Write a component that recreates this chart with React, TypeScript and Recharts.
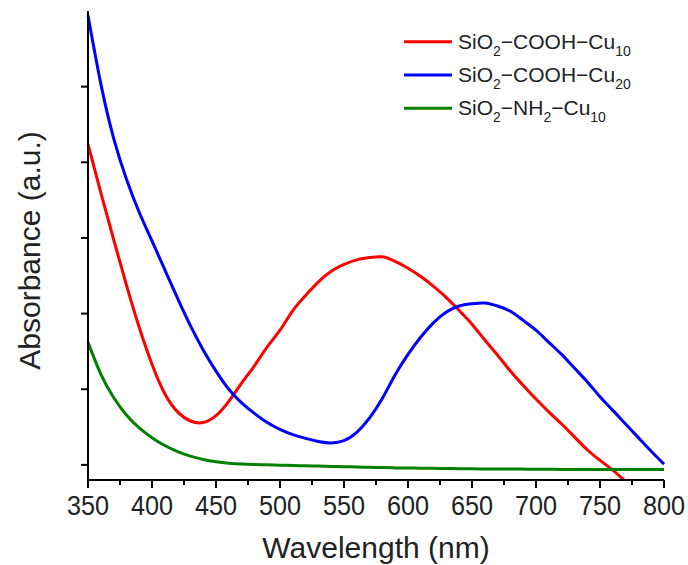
import React from 'react';
import { LineChart, Line, XAxis, YAxis, Legend } from 'recharts';

const wavelengths = [350, 360, 370, 380, 390, 400, 410, 420, 430, 440, 450, 460, 470, 480, 490, 500, 510, 520, 530, 540, 550, 560, 570, 580, 590, 600, 610, 620, 630, 640, 650, 660, 670, 680, 690, 700, 710, 720, 730, 740, 750, 760, 770, 780, 790, 800];

const coohCu10 = [2.12, 1.8, 1.49, 1.19, 0.91, 0.665, 0.47, 0.35, 0.29, 0.28, 0.325, 0.42, 0.54, 0.655, 0.78, 0.89, 1.02, 1.12, 1.21, 1.28, 1.325, 1.355, 1.37, 1.375, 1.345, 1.3, 1.245, 1.18, 1.105, 1.02, 0.93, 0.825, 0.725, 0.62, 0.525, 0.435, 0.35, 0.27, 0.185, 0.1, 0.03, -0.035, -0.11, -0.18, -0.25, -0.32];

const coohCu20 = [2.97, 2.52, 2.16, 1.89, 1.67, 1.48, 1.29, 1.1, 0.92, 0.76, 0.62, 0.5, 0.41, 0.34, 0.28, 0.235, 0.2, 0.175, 0.155, 0.145, 0.16, 0.215, 0.31, 0.44, 0.595, 0.73, 0.845, 0.94, 1.01, 1.05, 1.065, 1.07, 1.05, 1.015, 0.955, 0.89, 0.81, 0.73, 0.64, 0.55, 0.45, 0.36, 0.27, 0.18, 0.09, 0.005];

const nh2Cu10 = [0.81, 0.6, 0.445, 0.33, 0.245, 0.18, 0.128, 0.088, 0.058, 0.036, 0.021, 0.011, 0.005, 0.002, 0, -0.002, -0.004, -0.006, -0.008, -0.01, -0.012, -0.014, -0.016, -0.018, -0.02, -0.021, -0.022, -0.023, -0.024, -0.025, -0.026, -0.027, -0.027, -0.028, -0.028, -0.029, -0.029, -0.03, -0.03, -0.03, -0.03, -0.03, -0.03, -0.03, -0.03, -0.03];

const xTicks = [350, 375, 400, 425, 450, 475, 500, 525, 550, 575, 600, 625, 650, 675, 700, 725, 750, 775, 800];
const yTicks = [0, 0.5, 1, 1.5, 2, 2.5];

const seriesNames = ['SiO2-COOH-Cu10', 'SiO2-COOH-Cu20', 'SiO2-NH2-Cu10'];
const seriesColors = ['#ff0000', '#0000ff', '#008000'];
const legendParts = [
  [{ t: 'SiO' }, { t: '2', sub: true }, { t: '\u2212COOH\u2212Cu' }, { t: '10', sub: true }],
  [{ t: 'SiO' }, { t: '2', sub: true }, { t: '\u2212COOH\u2212Cu' }, { t: '20', sub: true }],
  [{ t: 'SiO' }, { t: '2', sub: true }, { t: '\u2212NH' }, { t: '2', sub: true }, { t: '\u2212Cu' }, { t: '10', sub: true }],
];

const rows = wavelengths.map((wl, i) => ({ wl, a: coohCu10[i], b: coohCu20[i], c: nh2Cu10[i] }));

const FONT = "'Liberation Sans', Arial, sans-serif";

const BottomTick = (props: any) => {
  const { x, y, payload } = props;
  const v = payload.value;
  const major = v % 50 === 0;
  const axisY = y - 15;
  return (
    <g>
      <line x1={x} x2={x} y1={axisY} y2={axisY + (major ? 8 : 5)} stroke="#000" strokeWidth={2} />
      {major && (
        <text transform={`translate(${x},${axisY + 35}) scale(0.9,1)`} textAnchor="middle" fontSize={28} fontFamily={FONT} fill="#222">
          {v}
        </text>
      )}
    </g>
  );
};

const TopTick = (props: any) => {
  const { x, y } = props;
  return <line x1={x} x2={x} y1={y} y2={y + 4} stroke="#000" strokeWidth={1.5} />;
};

const EmptyTick = () => <g />;

const LegendContent = (props: any) => {
  const payload = props.payload || [];
  return (
    <svg width={290} height={100} style={{ display: 'block' }}>
      {payload.map((entry: any, i: number) => {
        const ly = 16.7 + 33.3 * i;
        const parts = legendParts[i] || [{ t: entry.value }];
        let inSub = false;
        return (
          <g key={i}>
            <line x1={4} x2={52} y1={ly} y2={ly} stroke={entry.color} strokeWidth={3} />
            <text x={58} y={ly + 7} fontSize={21} fontFamily={FONT} fill="#222">
              {parts.map((p: any, j: number) => {
                let dy = 0;
                if (p.sub && !inSub) dy = 7;
                if (!p.sub && inSub) dy = -7;
                inSub = !!p.sub;
                return (
                  <tspan key={j} dy={dy} fontSize={p.sub ? 14 : 21}>
                    {p.t}
                  </tspan>
                );
              })}
            </text>
          </g>
        );
      })}
    </svg>
  );
};

export default function App() {
  return (
    <div style={{ position: 'absolute', left: 0, top: 0, width: 688, height: 565, background: '#fff' }}>
      <LineChart width={688} height={565} data={rows} margin={{ top: 11, right: 24, left: 0, bottom: 0 }}>
        <XAxis
          dataKey="wl"
          type="number"
          domain={[350, 800]}
          ticks={xTicks}
          interval={0}
          height={85}
          tickSize={8}
          tickMargin={7}
          tickLine={false}
          tick={<BottomTick />}
          axisLine={{ stroke: '#000', strokeWidth: 2 }}
          label={{
            content: (p: any) => {
              const vb = p.viewBox;
              return (
                <text x={vb.x + vb.width / 2} y={vb.y + 78} textAnchor="middle" fontSize={30} fontFamily={FONT} fill="#222">
                  Wavelength (nm)
                </text>
              );
            },
          }}
        />
        <XAxis
          xAxisId="top"
          orientation="top"
          dataKey="wl"
          type="number"
          domain={[350, 800]}
          ticks={xTicks}
          interval={0}
          height={0}
          tickSize={0}
          tickMargin={0}
          tickLine={false}
          tick={<TopTick />}
          axisLine={{ stroke: '#000', strokeWidth: 2 }}
        />
        <YAxis
          type="number"
          domain={[-0.1, 3]}
          allowDataOverflow
          ticks={yTicks}
          interval={0}
          width={88}
          tickSize={7}
          tick={<EmptyTick />}
          tickLine={{ stroke: '#000', strokeWidth: 2 }}
          axisLine={{ stroke: '#000', strokeWidth: 2 }}
          label={{
            content: (p: any) => {
              const vb = p.viewBox;
              const cx = vb.x + 40;
              const cy = vb.y + vb.height / 2 + 5;
              return (
                <text x={cx} y={cy} transform={`rotate(-90, ${cx}, ${cy})`} textAnchor="middle" fontSize={30} fontFamily={FONT} fill="#222">
                  Absorbance (a.u.)
                </text>
              );
            },
          }}
        />
        <YAxis
          yAxisId="right"
          orientation="right"
          type="number"
          domain={[-0.1, 3]}
          allowDataOverflow
          ticks={yTicks}
          interval={0}
          width={0}
          tickSize={4}
          tick={<EmptyTick />}
          tickLine={{ stroke: '#000', strokeWidth: 2 }}
          axisLine={{ stroke: '#000', strokeWidth: 2 }}
        />
        <Legend
          layout="vertical"
          align="center"
          verticalAlign="middle"
          wrapperStyle={{ left: 400, top: 25, width: 290, height: 100 }}
          content={<LegendContent />}
        />
        <Line type="natural" dataKey="a" name={seriesNames[0]} stroke={seriesColors[0]} strokeWidth={3} dot={false} activeDot={false} isAnimationActive={false} />
        <Line type="natural" dataKey="b" name={seriesNames[1]} stroke={seriesColors[1]} strokeWidth={3} dot={false} activeDot={false} isAnimationActive={false} />
        <Line type="natural" dataKey="c" name={seriesNames[2]} stroke={seriesColors[2]} strokeWidth={3} dot={false} activeDot={false} isAnimationActive={false} />
      </LineChart>
    </div>
  );
}
